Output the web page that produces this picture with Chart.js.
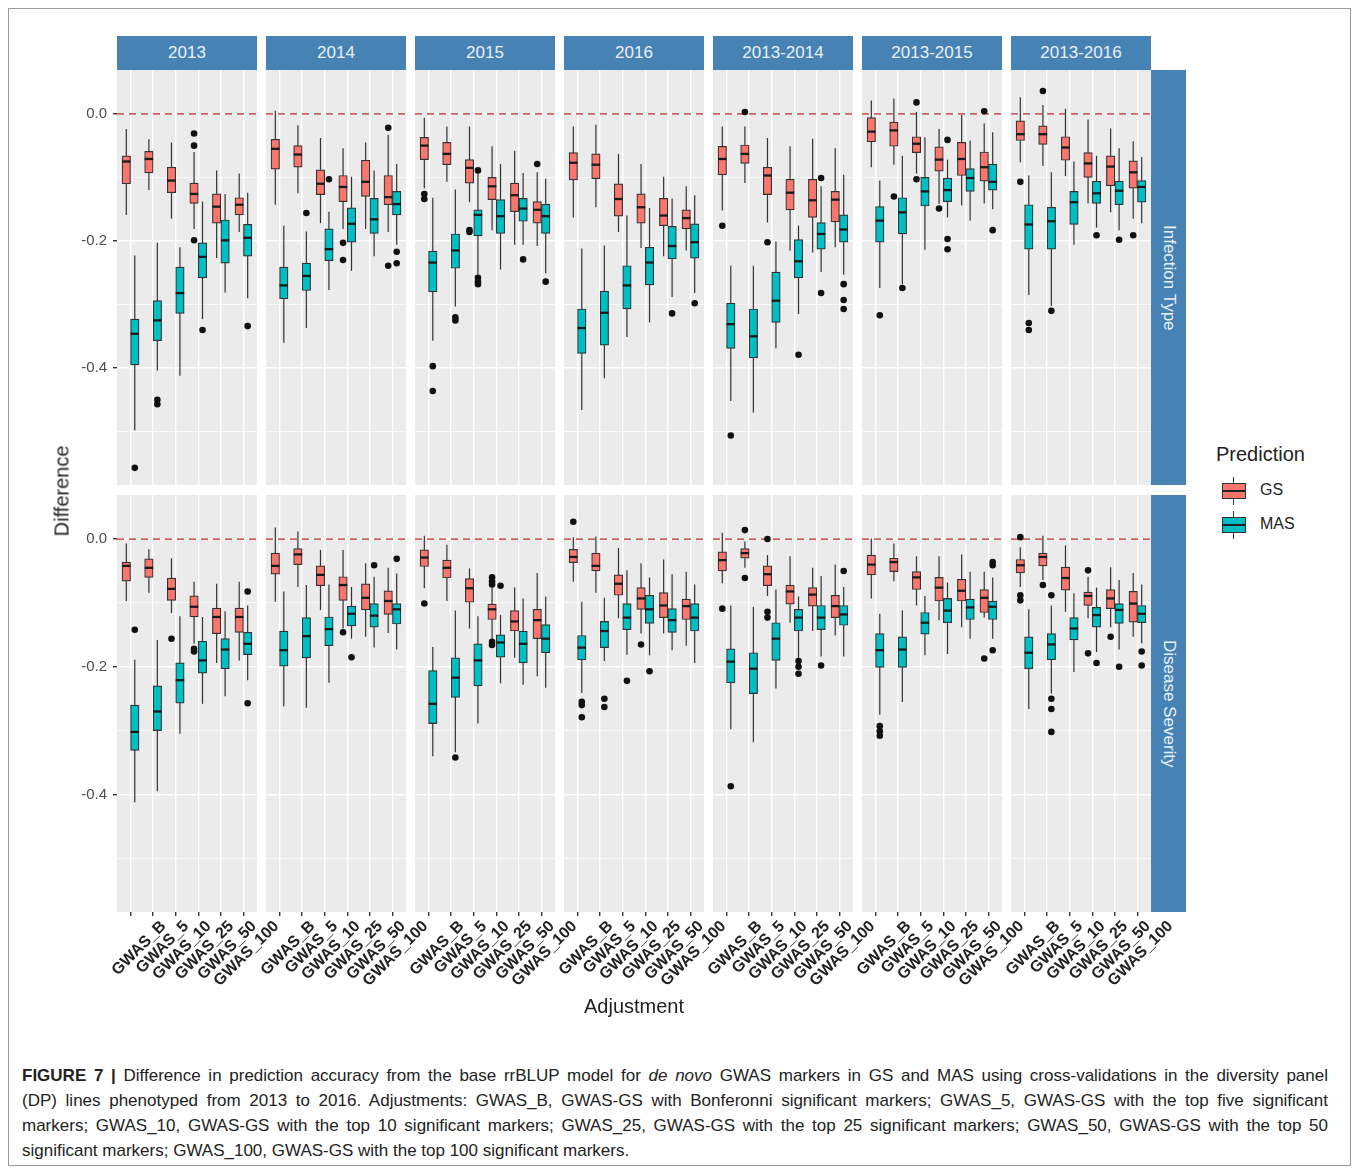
<!DOCTYPE html>
<html>
<head>
<meta charset="utf-8">
<script src="https://cdn.jsdelivr.net/npm/chart.js@4.4.1/dist/chart.umd.min.js"></script>
<style>
  body { margin: 0; background: #fff; font-family: "Liberation Sans", Arial, sans-serif; }
  #fig { position: relative; width: 1358px; height: 1170px; overflow: hidden; }
  .frame { position: absolute; left: 8px; top: 8px; width: 1341px; height: 1156px; border: 1px solid #9a9a9a; }
  .abs { position: absolute; }
  .strip { position: absolute; background: #4682B4; color: #E9F0F8; font-size: 17px;
           display: flex; align-items: center; justify-content: center; }
  .strip.side { writing-mode: vertical-rl; }
  .title { position: absolute; color: #222; font-size: 20px; }
  .key { position: absolute; width: 26px; height: 28px; }
  .key .wh { position: absolute; left: 12px; width: 1.3px; top: 0; bottom: 0; background: #333; }
  .key .bx { position: absolute; left: 1px; top: 6px; width: 22px; height: 14px; border: 1.3px solid #333; }
  .key .md { position: absolute; left: 0; right: 0; top: 6px; height: 2px; background: #222; }
  .caption { position: absolute; left: 22px; top: 1063px; width: 1306px; font-size: 17px; line-height: 25px; color: #222; }
  .caption div { text-align-last: justify; }
  .caption div.last { text-align-last: left; }
</style>
</head>
<body>
<div id="fig">
  <div class="frame"></div>
</div>
<script>
// facet labels
const years = ["2013", "2014", "2015", "2016", "2013-2014", "2013-2015", "2013-2016"];
const traits = ["Infection Type", "Disease Severity"];
const adjustments = ["GWAS_B", "GWAS_5", "GWAS_10", "GWAS_25", "GWAS_50", "GWAS_100"];
const predictions = ["GS", "MAS"];
const yTicks = [0, -0.2, -0.4];

// box stats per year, per adjustment: [lower whisker, Q1, median, Q3, upper whisker]
const itGS = [
  [[-0.159,-0.110,-0.075,-0.066,-0.024],[-0.120,-0.093,-0.071,-0.059,-0.040],[-0.165,-0.124,-0.105,-0.084,-0.045],[-0.181,-0.141,-0.126,-0.109,-0.060],[-0.227,-0.172,-0.146,-0.126,-0.089],[-0.186,-0.159,-0.143,-0.132,-0.094]],
  [[-0.143,-0.087,-0.055,-0.040,0.005],[-0.125,-0.084,-0.064,-0.050,-0.018],[-0.172,-0.127,-0.110,-0.088,-0.038],[-0.181,-0.138,-0.115,-0.097,-0.054],[-0.181,-0.130,-0.107,-0.073,-0.045],[-0.186,-0.143,-0.131,-0.097,-0.033]],
  [[-0.117,-0.072,-0.050,-0.037,-0.006],[-0.107,-0.080,-0.063,-0.045,-0.020],[-0.139,-0.109,-0.085,-0.072,-0.020],[-0.183,-0.135,-0.114,-0.100,-0.051],[-0.206,-0.154,-0.128,-0.109,-0.058],[-0.208,-0.172,-0.151,-0.138,-0.092]],
  [[-0.163,-0.104,-0.077,-0.061,-0.020],[-0.147,-0.102,-0.080,-0.063,-0.017],[-0.186,-0.161,-0.134,-0.110,-0.063],[-0.211,-0.172,-0.147,-0.126,-0.079],[-0.224,-0.176,-0.160,-0.133,-0.099],[-0.215,-0.181,-0.164,-0.151,-0.114]],
  [[-0.152,-0.096,-0.071,-0.051,-0.020],[-0.109,-0.078,-0.063,-0.049,-0.020],[-0.171,-0.127,-0.097,-0.084,-0.038],[-0.215,-0.151,-0.124,-0.103,-0.051],[-0.218,-0.163,-0.136,-0.103,-0.039],[-0.210,-0.170,-0.135,-0.122,-0.054]],
  [[-0.084,-0.044,-0.028,-0.006,0.021],[-0.080,-0.051,-0.026,-0.013,0.024],[-0.094,-0.061,-0.047,-0.036,0.003],[-0.142,-0.090,-0.072,-0.052,-0.024],[-0.144,-0.097,-0.071,-0.045,-0.002],[-0.141,-0.106,-0.084,-0.060,-0.015]],
  [[-0.076,-0.042,-0.032,-0.011,0.026],[-0.082,-0.048,-0.032,-0.019,0.014],[-0.098,-0.073,-0.053,-0.036,0.008],[-0.141,-0.100,-0.078,-0.061,-0.009],[-0.155,-0.113,-0.083,-0.066,-0.023],[-0.165,-0.117,-0.092,-0.074,-0.043]]
];
const itMAS = [
  [[-0.498,-0.395,-0.346,-0.323,-0.223],[-0.404,-0.357,-0.325,-0.294,-0.203],[-0.412,-0.314,-0.282,-0.241,-0.210],[-0.323,-0.258,-0.225,-0.203,-0.138],[-0.281,-0.235,-0.199,-0.167,-0.126],[-0.290,-0.224,-0.195,-0.174,-0.124]],
  [[-0.360,-0.291,-0.270,-0.241,-0.176],[-0.337,-0.278,-0.255,-0.235,-0.185],[-0.277,-0.231,-0.213,-0.181,-0.154],[-0.247,-0.202,-0.173,-0.148,-0.099],[-0.224,-0.188,-0.166,-0.133,-0.089],[-0.206,-0.159,-0.142,-0.122,-0.079]],
  [[-0.357,-0.280,-0.234,-0.216,-0.132],[-0.303,-0.243,-0.215,-0.189,-0.119],[-0.253,-0.192,-0.159,-0.151,-0.094],[-0.245,-0.188,-0.161,-0.135,-0.079],[-0.206,-0.169,-0.149,-0.133,-0.093],[-0.251,-0.188,-0.161,-0.142,-0.102]],
  [[-0.466,-0.377,-0.337,-0.307,-0.212],[-0.416,-0.364,-0.313,-0.279,-0.207],[-0.351,-0.307,-0.270,-0.239,-0.160],[-0.328,-0.269,-0.234,-0.210,-0.148],[-0.288,-0.228,-0.208,-0.177,-0.133],[-0.282,-0.227,-0.202,-0.173,-0.128]],
  [[-0.452,-0.369,-0.331,-0.298,-0.239],[-0.470,-0.384,-0.350,-0.307,-0.239],[-0.369,-0.328,-0.294,-0.249,-0.201],[-0.315,-0.258,-0.232,-0.198,-0.176],[-0.249,-0.213,-0.189,-0.171,-0.114],[-0.253,-0.202,-0.182,-0.159,-0.096]],
  [[-0.274,-0.202,-0.168,-0.146,-0.105],[-0.268,-0.189,-0.155,-0.132,-0.066],[-0.214,-0.145,-0.122,-0.100,-0.037],[-0.163,-0.138,-0.120,-0.101,-0.072],[-0.168,-0.122,-0.101,-0.086,-0.042],[-0.150,-0.120,-0.107,-0.079,-0.029]],
  [[-0.285,-0.213,-0.174,-0.143,-0.097],[-0.302,-0.213,-0.169,-0.147,-0.092],[-0.206,-0.174,-0.139,-0.122,-0.075],[-0.179,-0.141,-0.125,-0.106,-0.066],[-0.183,-0.143,-0.121,-0.106,-0.054],[-0.172,-0.139,-0.115,-0.105,-0.068]]
];
const dsGS = [
  [[-0.097,-0.066,-0.042,-0.036,-0.007],[-0.084,-0.060,-0.045,-0.031,-0.016],[-0.116,-0.096,-0.078,-0.061,-0.030],[-0.164,-0.122,-0.106,-0.089,-0.067],[-0.194,-0.148,-0.122,-0.108,-0.070],[-0.190,-0.146,-0.122,-0.108,-0.067]],
  [[-0.098,-0.055,-0.042,-0.022,0.018],[-0.075,-0.040,-0.024,-0.015,0.012],[-0.111,-0.073,-0.056,-0.042,-0.017],[-0.140,-0.096,-0.072,-0.059,-0.017],[-0.153,-0.111,-0.092,-0.070,-0.038],[-0.147,-0.118,-0.097,-0.081,-0.045]],
  [[-0.077,-0.043,-0.029,-0.017,0.005],[-0.097,-0.061,-0.045,-0.033,-0.009],[-0.140,-0.099,-0.077,-0.062,-0.046],[-0.156,-0.126,-0.110,-0.102,-0.075],[-0.186,-0.144,-0.129,-0.112,-0.076],[-0.215,-0.156,-0.127,-0.110,-0.053]],
  [[-0.067,-0.037,-0.028,-0.016,0.003],[-0.084,-0.050,-0.042,-0.022,0.004],[-0.124,-0.088,-0.070,-0.056,-0.014],[-0.148,-0.110,-0.093,-0.076,-0.038],[-0.148,-0.123,-0.104,-0.084,-0.032],[-0.167,-0.126,-0.105,-0.094,-0.051]],
  [[-0.069,-0.050,-0.033,-0.020,0.010],[-0.045,-0.030,-0.022,-0.015,-0.004],[-0.089,-0.073,-0.055,-0.042,-0.025],[-0.131,-0.102,-0.082,-0.072,-0.027],[-0.144,-0.105,-0.087,-0.076,-0.045],[-0.151,-0.123,-0.105,-0.088,-0.040]],
  [[-0.093,-0.056,-0.040,-0.025,0.001],[-0.066,-0.051,-0.036,-0.030,-0.007],[-0.104,-0.079,-0.060,-0.051,-0.027],[-0.127,-0.097,-0.076,-0.060,-0.027],[-0.138,-0.097,-0.081,-0.063,-0.024],[-0.123,-0.115,-0.092,-0.079,-0.051]],
  [[-0.075,-0.053,-0.041,-0.032,-0.013],[-0.064,-0.042,-0.028,-0.022,0.005],[-0.114,-0.080,-0.061,-0.044,-0.010],[-0.124,-0.104,-0.089,-0.083,-0.059],[-0.138,-0.109,-0.093,-0.079,-0.044],[-0.153,-0.130,-0.101,-0.082,-0.053]]
];
const dsMAS = [
  [[-0.412,-0.331,-0.302,-0.260,-0.189],[-0.395,-0.300,-0.270,-0.230,-0.158],[-0.305,-0.257,-0.221,-0.194,-0.121],[-0.258,-0.210,-0.190,-0.160,-0.122],[-0.246,-0.203,-0.173,-0.156,-0.113],[-0.221,-0.181,-0.164,-0.146,-0.104]],
  [[-0.262,-0.199,-0.174,-0.144,-0.082],[-0.264,-0.186,-0.152,-0.123,-0.072],[-0.225,-0.167,-0.141,-0.122,-0.071],[-0.156,-0.136,-0.117,-0.105,-0.075],[-0.170,-0.138,-0.120,-0.101,-0.059],[-0.173,-0.133,-0.110,-0.101,-0.054]],
  [[-0.340,-0.289,-0.258,-0.206,-0.169],[-0.334,-0.248,-0.217,-0.186,-0.112],[-0.289,-0.230,-0.190,-0.164,-0.121],[-0.226,-0.185,-0.162,-0.150,-0.119],[-0.228,-0.194,-0.164,-0.144,-0.093],[-0.233,-0.178,-0.156,-0.134,-0.090]],
  [[-0.241,-0.189,-0.170,-0.151,-0.098],[-0.191,-0.170,-0.144,-0.129,-0.092],[-0.181,-0.142,-0.123,-0.101,-0.049],[-0.182,-0.132,-0.110,-0.088,-0.060],[-0.174,-0.146,-0.127,-0.109,-0.055],[-0.194,-0.144,-0.123,-0.101,-0.071]],
  [[-0.298,-0.225,-0.192,-0.172,-0.104],[-0.318,-0.242,-0.203,-0.178,-0.106],[-0.234,-0.190,-0.156,-0.131,-0.079],[-0.186,-0.144,-0.123,-0.110,-0.090],[-0.184,-0.142,-0.123,-0.104,-0.058],[-0.184,-0.135,-0.118,-0.104,-0.075]],
  [[-0.275,-0.201,-0.174,-0.148,-0.117],[-0.255,-0.201,-0.173,-0.153,-0.112],[-0.182,-0.149,-0.131,-0.115,-0.089],[-0.180,-0.131,-0.112,-0.093,-0.068],[-0.156,-0.126,-0.107,-0.094,-0.051],[-0.156,-0.126,-0.106,-0.097,-0.060]],
  [[-0.266,-0.203,-0.178,-0.153,-0.110],[-0.242,-0.189,-0.165,-0.148,-0.104],[-0.208,-0.158,-0.140,-0.123,-0.085],[-0.177,-0.138,-0.119,-0.107,-0.076],[-0.173,-0.132,-0.111,-0.101,-0.064],[-0.163,-0.131,-0.117,-0.104,-0.071]]
];

// outlying points, same layout (year -> adjustment -> values)
const itGSOut = [
  [[], [], [], [-0.031, -0.050, -0.199], [], []],
  [[], [], [], [-0.203, -0.230], [], [-0.022, -0.239]],
  [[-0.126, -0.134], [], [-0.183, -0.186], [], [], [-0.079]],
  [[], [], [], [], [], []],
  [[-0.176], [0.003], [-0.202], [], [], []],
  [[], [-0.130], [0.018, -0.103], [-0.149], [], [0.004]],
  [[-0.107], [0.036], [], [], [], [-0.191]]
];
const itMASOut = [
  [[-0.557], [-0.450, -0.457], [], [-0.340], [], [-0.334]],
  [[], [-0.156], [-0.103], [], [], [-0.217, -0.235]],
  [[-0.397, -0.436], [-0.320, -0.325], [-0.089, -0.258, -0.264, -0.268], [], [-0.229], [-0.264]],
  [[], [], [], [], [-0.314], [-0.298]],
  [[-0.506], [], [], [-0.379], [-0.101, -0.282], [-0.268, -0.293, -0.307]],
  [[-0.317], [-0.274], [], [-0.041, -0.197, -0.213], [], [-0.183]],
  [[-0.329, -0.340], [-0.310], [], [-0.191], [-0.198], []]
];
const dsGSOut = [
  [[], [], [-0.156], [-0.172, -0.176], [], []],
  [[], [], [], [-0.146], [], []],
  [[-0.101], [], [], [-0.060, -0.066, -0.071, -0.161, -0.166], [], []],
  [[0.027], [], [], [-0.165], [], []],
  [[-0.109], [0.014, -0.061], [0.000, -0.114, -0.123], [], [], []],
  [[], [], [], [], [], [-0.187]],
  [[0.003, -0.088, -0.096], [-0.072], [], [-0.049, -0.179], [-0.153], []]
];
const dsMASOut = [
  [[-0.142], [], [], [], [], [-0.082, -0.257]],
  [[], [], [], [-0.185], [-0.041], [-0.031]],
  [[], [-0.342], [], [-0.073], [], []],
  [[-0.255, -0.260, -0.279], [-0.250, -0.263], [-0.222], [-0.207], [], []],
  [[-0.387], [], [], [-0.191, -0.200, -0.211], [-0.198], [-0.050]],
  [[-0.293, -0.301, -0.308], [], [], [], [], [-0.036, -0.041, -0.174]],
  [[], [-0.088, -0.250, -0.266, -0.302], [], [-0.194], [-0.200], [-0.176, -0.198]]
];

const boxes = [[itGS, itMAS], [dsGS, dsMAS]];
const outliers = [[itGSOut, itMASOut], [dsGSOut, dsMASOut]];
const fills = ["#F8766D", "#00BFC4"];

// panel geometry
const PANEL_X = 117, PANEL_STEP = 149, PANEL_W = 140;
const ROW_TOP = [70, 495], ROW_H = [415, 417];
const AXIS_W = 50, LABEL_H = 110;
const LABEL_LEFT = 36, LABEL_RIGHT = 50; // room for the slanted tick labels
const Y_MIN = -0.584, Y_MAX = 0.069;
const X_MIN = 0.4, X_MAX = 6.6;
const DODGE = 0.1875;
const unitPx = PANEL_W / (X_MAX - X_MIN);

Chart.defaults.font.family = '"Liberation Sans", Arial, sans-serif';

const isMajor = (v) => Math.round(v * 10) % 2 === 0;

const boxPlugin = {
  id: "boxplot",
  beforeDraw(chart) {
    const { ctx, chartArea: a } = chart;
    ctx.save();
    ctx.fillStyle = "#EBEBEB";
    ctx.fillRect(a.left, a.top, a.right - a.left, a.bottom - a.top);
    ctx.restore();
  },
  beforeDatasetsDraw(chart) {
    const { ctx, chartArea: a, scales: { y } } = chart;
    const y0 = y.getPixelForValue(0);
    ctx.save();
    // zero reference
    ctx.strokeStyle = "rgba(190,60,60,0.8)";
    ctx.lineWidth = 1.7;
    ctx.setLineDash([7, 5]);
    ctx.beginPath();
    ctx.moveTo(a.left, y0);
    ctx.lineTo(a.right, y0);
    ctx.stroke();
    ctx.setLineDash([]);
    // whiskers
    ctx.strokeStyle = "#333";
    ctx.lineWidth = 1.2;
    chart.data.datasets.forEach((ds, i) => {
      if (!ds.stats) return;
      chart.getDatasetMeta(i).data.forEach((bar, k) => {
        const s = ds.stats[k];
        ctx.beginPath();
        ctx.moveTo(bar.x, y.getPixelForValue(s[0]));
        ctx.lineTo(bar.x, y.getPixelForValue(s[4]));
        ctx.stroke();
      });
    });
    ctx.restore();
  },
  afterDatasetsDraw(chart) {
    const { ctx, scales: { y } } = chart;
    ctx.save();
    ctx.strokeStyle = "#1a1a1a";
    ctx.lineWidth = 2.3;
    chart.data.datasets.forEach((ds, i) => {
      if (!ds.stats) return;
      chart.getDatasetMeta(i).data.forEach((bar, k) => {
        const my = y.getPixelForValue(ds.stats[k][2]);
        ctx.beginPath();
        ctx.moveTo(bar.x - bar.width / 2, my);
        ctx.lineTo(bar.x + bar.width / 2, my);
        ctx.stroke();
      });
    });
    ctx.restore();
  }
};

const fig = document.getElementById("fig");

function addDiv(cls, css, html) {
  const d = document.createElement("div");
  d.className = cls;
  Object.assign(d.style, css);
  if (html !== undefined) d.innerHTML = html;
  fig.appendChild(d);
  return d;
}

function makePanel(r, c) {
  const bottomRow = r === 1;
  const padL = bottomRow && c > 0 ? LABEL_LEFT : 0;
  const padR = bottomRow ? LABEL_RIGHT : 0;
  const left = PANEL_X + PANEL_STEP * c - (c === 0 ? AXIS_W : 0) - padL;
  const w = PANEL_W + (c === 0 ? AXIS_W : 0) + padL + padR;
  const h = ROW_H[r] + (bottomRow ? LABEL_H : 0);
  const canvas = document.createElement("canvas");
  canvas.width = w;
  canvas.height = h;
  canvas.className = "abs";
  canvas.style.left = left + "px";
  canvas.style.top = ROW_TOP[r] + "px";
  fig.appendChild(canvas);

  const datasets = predictions.map((p, s) => ({
    type: "bar",
    label: p,
    stats: boxes[r][s][c],
    data: boxes[r][s][c].map((b, k) => ({ x: k + 1, y: [b[1], b[3]] })),
    backgroundColor: fills[s],
    borderColor: "#333",
    borderWidth: 1.2,
    borderSkipped: false,
    barThickness: 0.375 * unitPx,
    order: 2
  }));
  const pts = [];
  predictions.forEach((p, s) => {
    outliers[r][s][c].forEach((vals, k) => {
      vals.forEach((v) => pts.push({ x: k + 1 + (s === 0 ? -DODGE : DODGE), y: v }));
    });
  });
  datasets.push({
    type: "scatter",
    label: "outliers",
    data: pts,
    pointRadius: 3.3,
    pointBackgroundColor: "#111",
    pointBorderWidth: 0,
    order: 0
  });

  return new Chart(canvas, {
    type: "bar",
    data: { datasets },
    options: {
      responsive: false,
      animation: false,
      events: [],
      layout: { autoPadding: false, padding: { left: padL, top: 0, bottom: 0, right: padR } },
      plugins: { legend: { display: false }, tooltip: { enabled: false } },
      scales: {
        x: {
          type: "linear",
          min: X_MIN,
          max: X_MAX,
          offset: false,
          border: { display: false },
          grid: {
            offset: false,
            color: "#ffffff",
            lineWidth: 1.4,
            drawTicks: bottomRow,
            tickLength: 4,
            tickColor: "#333"
          },
          afterBuildTicks: (s) => { s.ticks = adjustments.map((a, i) => ({ value: i + 1 })); },
          afterFit: (s) => { s.height = bottomRow ? LABEL_H : 0; s.paddingLeft = 0; s.paddingRight = 0; },
          ticks: {
            display: bottomRow,
            autoSkip: false,
            minRotation: 45,
            maxRotation: 45,
            labelOffset: 33,
            padding: 1,
            color: "#222",
            font: { size: 16, weight: "bold" },
            callback: (v, i) => adjustments[i]
          }
        },
        y: {
          min: Y_MIN,
          max: Y_MAX,
          border: { display: false },
          grid: {
            color: "#ffffff",
            lineWidth: (ctx) => (isMajor(ctx.tick.value) ? 1.4 : 0.7),
            drawTicks: c === 0,
            tickLength: 4,
            tickColor: (ctx) => (isMajor(ctx.tick.value) ? "#333" : "rgba(0,0,0,0)")
          },
          afterBuildTicks: (s) => {
            s.ticks = [-0.5, -0.4, -0.3, -0.2, -0.1, 0].map((v) => ({ value: v }));
          },
          afterFit: (s) => { s.width = c === 0 ? AXIS_W : 0; s.paddingTop = 0; s.paddingBottom = 0; },
          ticks: {
            display: c === 0,
            autoSkip: false,
            padding: 6,
            color: "#4d4d4d",
            font: { size: 15 },
            callback: (v) => (yTicks.some((t) => Math.abs(t - v) < 1e-9) ? (Math.abs(v) < 1e-9 ? "0.0" : v.toFixed(1)) : "")
          }
        }
      }
    },
    plugins: [boxPlugin]
  });
}

traits.forEach((t, r) => years.forEach((yr, c) => makePanel(r, c)));

// facet strips
years.forEach((yr, c) => {
  addDiv("strip", { left: PANEL_X + PANEL_STEP * c + "px", top: "36px", width: PANEL_W + "px", height: "34px" }, yr);
});
const stripRight = PANEL_X + PANEL_STEP * (years.length - 1) + PANEL_W;
traits.forEach((t, r) => {
  addDiv("strip side", { left: stripRight + "px", top: ROW_TOP[r] + "px", width: "35px", height: ROW_H[r] + "px" }, t);
});

// axis titles
addDiv("title", { left: "62px", top: "491px", transform: "translate(-50%,-50%) rotate(-90deg)", whiteSpace: "nowrap" }, "Difference");
addDiv("title", { left: (PANEL_X + stripRight) / 2 + "px", top: "1006px", transform: "translate(-50%,-50%)" }, "Adjustment");

// legend
addDiv("title", { left: "1216px", top: "443px" }, "Prediction");
predictions.forEach((p, s) => {
  const top = 477 + s * 34;
  addDiv("key", { left: "1221px", top: top + "px" },
    '<div class="wh"></div><div class="bx" style="background:' + fills[s] + '"><div class="md"></div></div>');
  addDiv("abs", { left: "1260px", top: top + 4 + "px", fontSize: "16px", color: "#222" }, p);
});

// caption
addDiv("caption", {},
  '<div><b>FIGURE 7 |</b> Difference in prediction accuracy from the base rrBLUP model for <i>de novo</i> GWAS markers in GS and MAS using cross-validations in the diversity panel</div>' +
  '<div>(DP) lines phenotyped from 2013 to 2016. Adjustments: GWAS_B, GWAS-GS with Bonferonni significant markers; GWAS_5, GWAS-GS with the top five significant</div>' +
  '<div>markers; GWAS_10, GWAS-GS with the top 10 significant markers; GWAS_25, GWAS-GS with the top 25 significant markers; GWAS_50, GWAS-GS with the top 50</div>' +
  '<div class="last">significant markers; GWAS_100, GWAS-GS with the top 100 significant markers.</div>');
</script>
</body>
</html>
